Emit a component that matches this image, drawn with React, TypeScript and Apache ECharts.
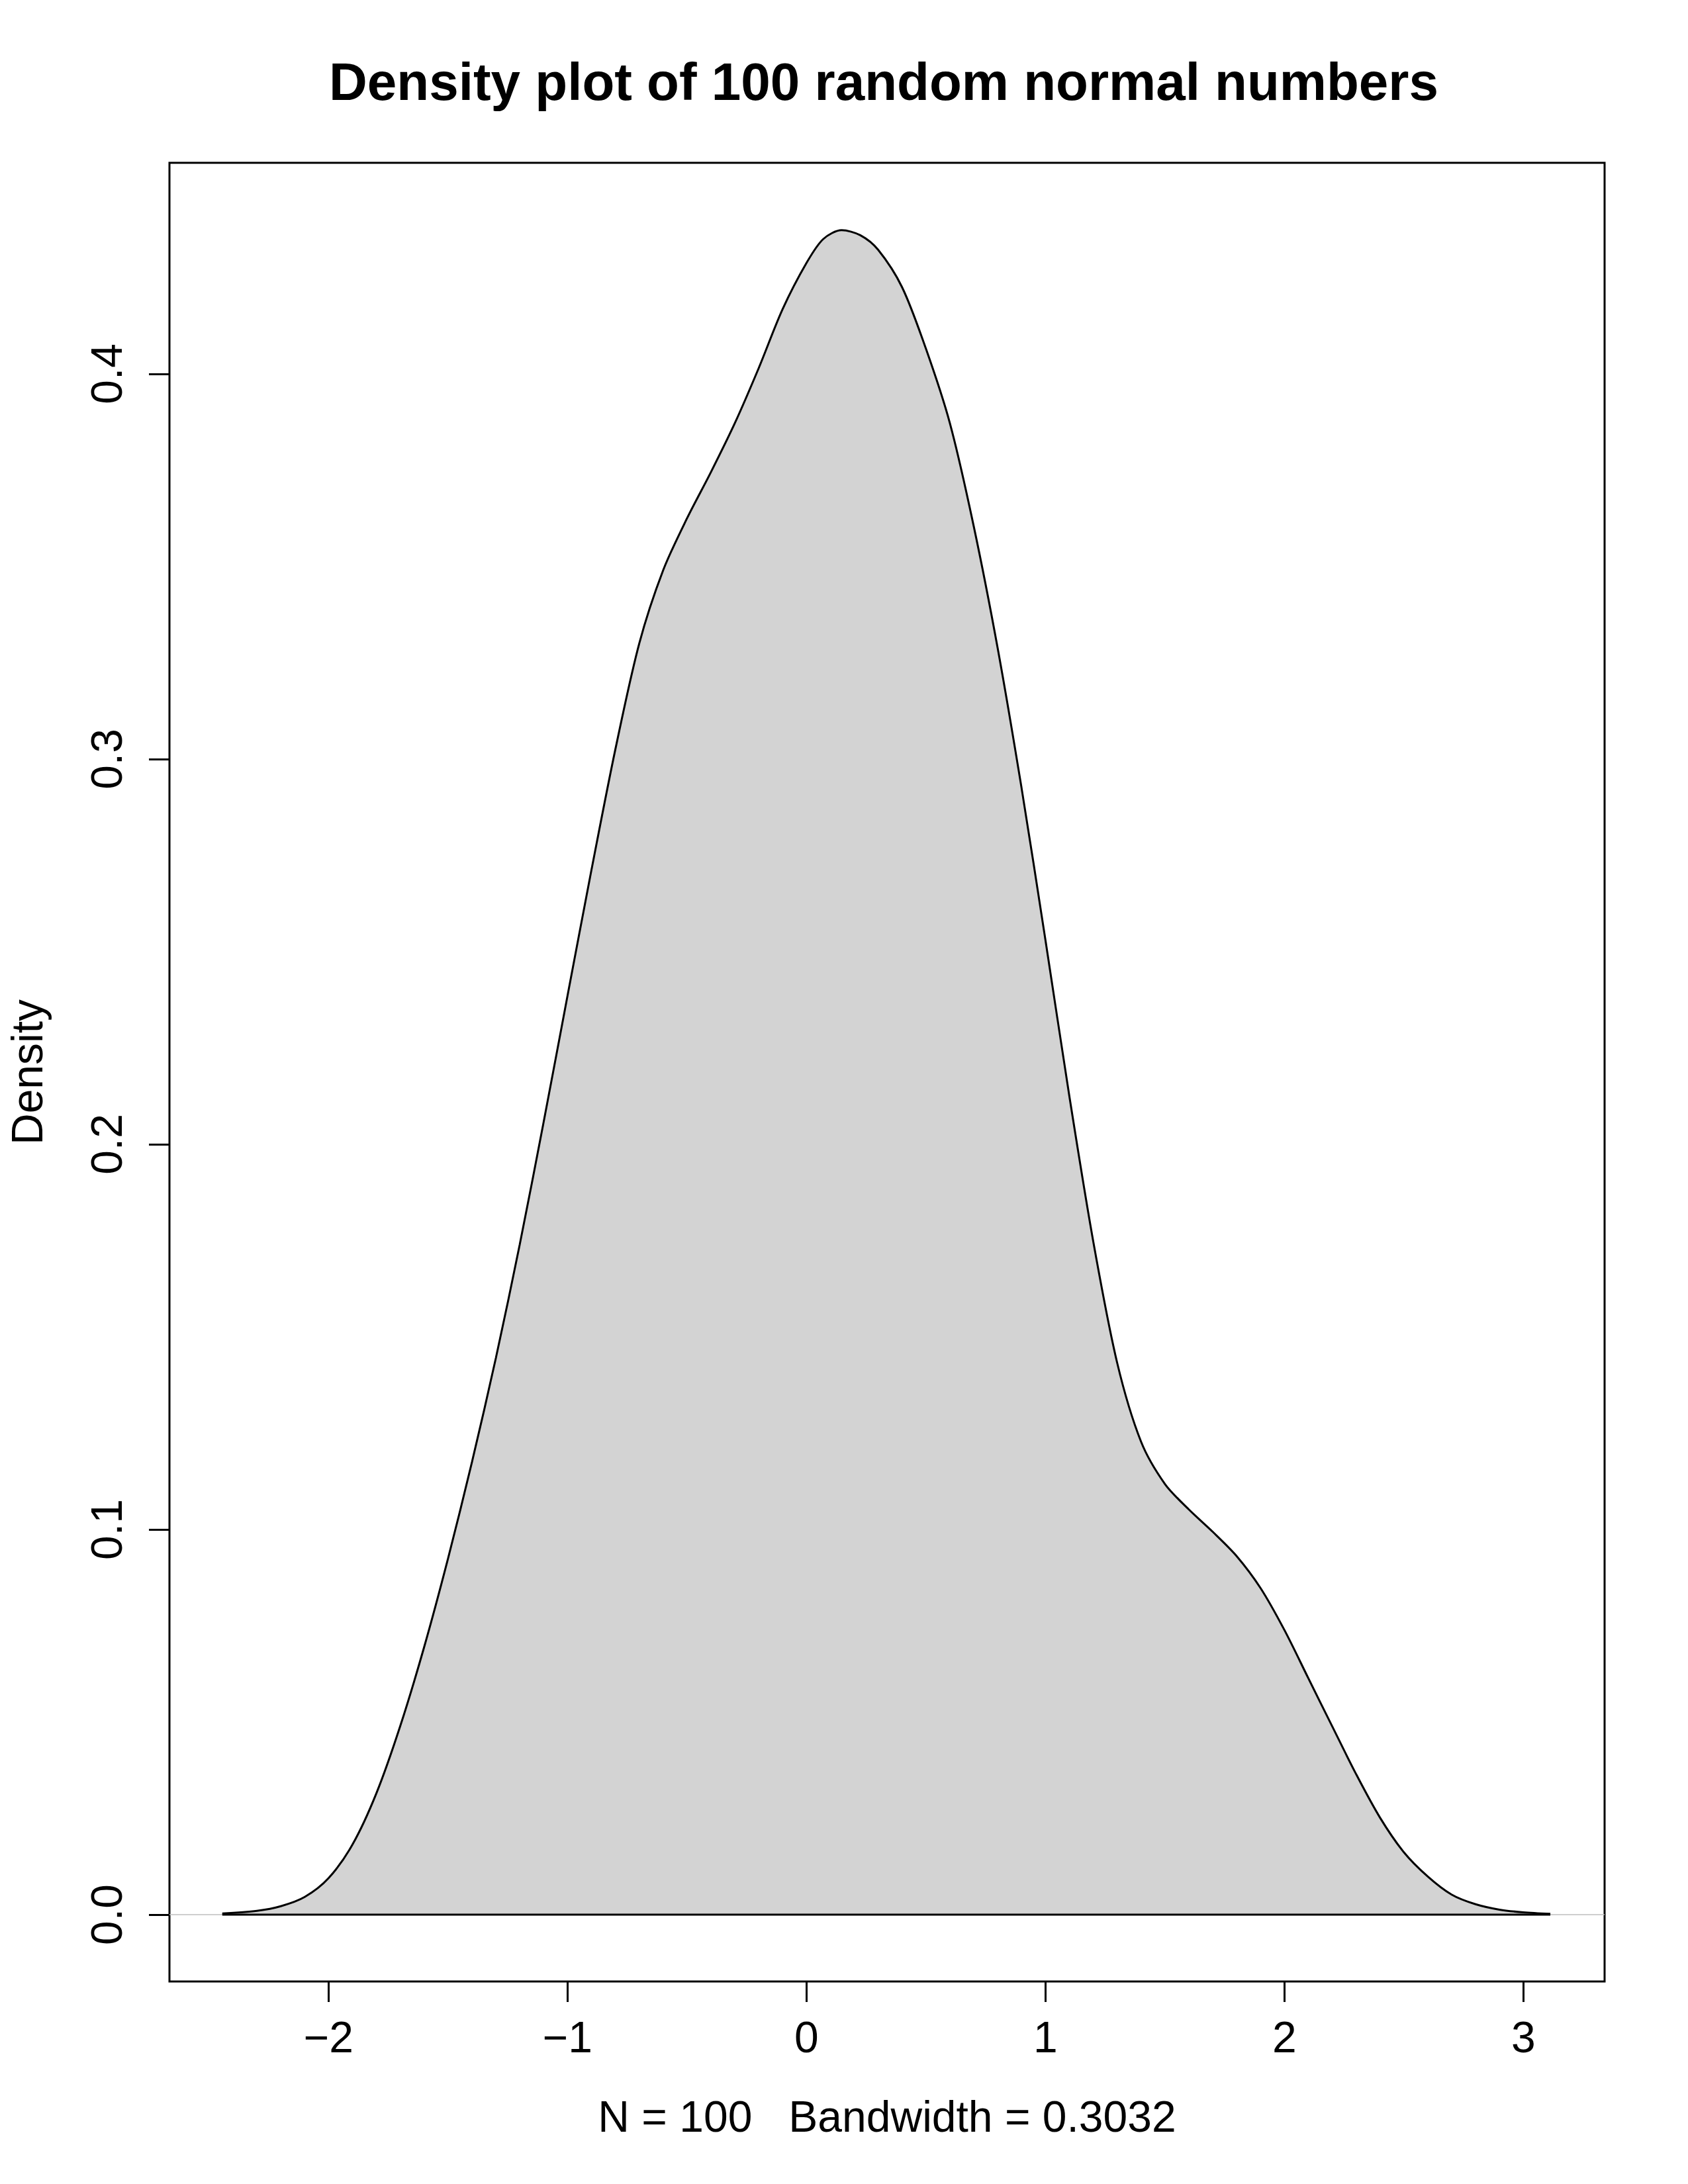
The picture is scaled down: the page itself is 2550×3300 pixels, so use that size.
import React, { useEffect, useRef } from "react";
import * as echarts from "echarts";

const titleText = "Density plot of 100 random normal numbers";
const xAxisTitle = "N = 100   Bandwidth = 0.3032";
const yAxisTitle = "Density";

const xTicks = [-2, -1, 0, 1, 2, 3];
const xTickLabels = ["\u22122", "\u22121", "0", "1", "2", "3"];
const yTicks = [0, 0.1, 0.2, 0.3, 0.4];
const yTickLabels = ["0.0", "0.1", "0.2", "0.3", "0.4"];

const xLimits = [-2.666, 3.34];
const yLimits = [-0.01735, 0.4548];

const densityX = [
  -2.445, -2.3, -2.2, -2.1, -2.0, -1.9, -1.8, -1.7, -1.6, -1.5,
  -1.4, -1.3, -1.2, -1.1, -1.0, -0.9, -0.8, -0.7, -0.6, -0.5,
  -0.4, -0.3, -0.2, -0.1, 0.0, 0.07, 0.147, 0.225, 0.3, 0.4, 0.5,
  0.6, 0.7, 0.8, 0.9, 1.0, 1.1, 1.2, 1.3, 1.4, 1.5,
  1.6, 1.7, 1.8, 1.9, 2.0, 2.1, 2.2, 2.3, 2.4, 2.5,
  2.6, 2.7, 2.8, 2.9, 3.0, 3.113,
];
const densityY = [
  0.0003, 0.001, 0.0022, 0.0046, 0.0095, 0.0182, 0.0315, 0.049, 0.0695, 0.0925,
  0.1175, 0.1445, 0.174, 0.2058, 0.2386, 0.2712, 0.3025, 0.33, 0.349, 0.3625,
  0.3745, 0.3872, 0.4015, 0.4168, 0.4288, 0.435, 0.4373, 0.436, 0.4322, 0.4225, 0.4065,
  0.3872, 0.3604, 0.3288, 0.2925, 0.253, 0.2125, 0.1748, 0.1433, 0.1228, 0.1118,
  0.1052, 0.0994, 0.0931, 0.0848, 0.0739, 0.0614, 0.0489, 0.0365, 0.0252, 0.0162,
  0.0099, 0.0052, 0.0027, 0.0013, 0.0006, 0.0002,
];

const FONT = "'Liberation Sans', Arial, Helvetica, sans-serif";

export default function App() {
  const ref = useRef<HTMLDivElement>(null);
  useEffect(() => {
    if (!ref.current) return;
    const chart = echarts.init(ref.current, undefined, { renderer: "svg" });
    const curve = densityX.map((x, i) => [x, densityY[i]]);
    const first = densityX[0];
    const last = densityX[densityX.length - 1];
    chart.setOption({
      animation: false,
      backgroundColor: "#ffffff",
      title: {
        text: titleText,
        left: 1335,
        top: 83.5,
        textAlign: "center",
        padding: 0,
        textStyle: {
          fontSize: 80,
          fontWeight: "bold",
          fontFamily: FONT,
          color: "#000",
          lineHeight: 80,
        },
      },
      grid: {
        left: 246,
        top: 246,
        right: 126,
        bottom: 306,
        show: true,
        borderColor: "#000",
        borderWidth: 3,
        backgroundColor: "transparent",
        containLabel: false,
      },
      xAxis: {
        type: "value",
        min: xLimits[0],
        max: xLimits[1],
        name: xAxisTitle,
        nameLocation: "middle",
        nameGap: 204,
        nameTextStyle: {
          fontSize: 66,
          fontFamily: FONT,
          color: "#000",
          align: "center",
          verticalAlign: "middle",
          lineHeight: 66,
        },
        axisLine: { show: false, onZero: false },
        splitLine: { show: false },
        axisTick: {
          show: true,
          length: 31,
          customValues: xTicks,
          lineStyle: { color: "#000", width: 3 },
        },
        axisLabel: {
          show: true,
          customValues: xTicks,
          formatter: (v: number) => {
            const i = xTicks.findIndex((t) => Math.abs(t - v) < 1e-9);
            return i >= 0 ? xTickLabels[i] : "";
          },
          fontSize: 66,
          fontFamily: FONT,
          color: "#000",
          margin: 84,
          verticalAlign: "middle",
          lineHeight: 66,
        },
      },
      yAxis: {
        type: "value",
        min: yLimits[0],
        max: yLimits[1],
        name: yAxisTitle,
        nameLocation: "middle",
        nameRotate: 90,
        nameGap: 215,
        nameTextStyle: {
          fontSize: 66,
          fontFamily: FONT,
          color: "#000",
          align: "center",
          verticalAlign: "middle",
          lineHeight: 66,
        },
        axisLine: { show: false, onZero: false },
        splitLine: { show: false },
        axisTick: {
          show: true,
          length: 31,
          customValues: yTicks,
          lineStyle: { color: "#000", width: 3 },
        },
        axisLabel: {
          show: true,
          customValues: yTicks,
          rotate: 90,
          formatter: (v: number) => {
            const i = yTicks.findIndex((t) => Math.abs(t - v) < 1e-9);
            return i >= 0 ? yTickLabels[i] : "";
          },
          fontSize: 66,
          fontFamily: FONT,
          color: "#000",
          margin: 95,
          align: "center",
          verticalAlign: "middle",
          lineHeight: 66,
        },
      },
      series: [
        {
          name: "zero line",
          type: "line",
          data: [
            [xLimits[0], 0],
            [xLimits[1], 0],
          ],
          symbol: "none",
          silent: true,
          z: 1,
          lineStyle: { color: "#BEBEBE", width: 1.5 },
        },
        {
          name: "density",
          type: "line",
          data: curve,
          smooth: 0.3,
          symbol: "none",
          silent: true,
          z: 2,
          lineStyle: { color: "#000", width: 3 },
          areaStyle: { color: "#D3D3D3", opacity: 1 },
        },
        {
          name: "polygon base",
          type: "line",
          data: [
            [first, 0],
            [last, 0],
          ],
          symbol: "none",
          silent: true,
          z: 3,
          lineStyle: { color: "#000", width: 3 },
        },
      ],
    });
    return () => chart.dispose();
  }, []);
  return (
    <div
      ref={ref}
      style={{ position: "absolute", left: 0, top: 0, width: 2550, height: 3300 }}
    />
  );
}
